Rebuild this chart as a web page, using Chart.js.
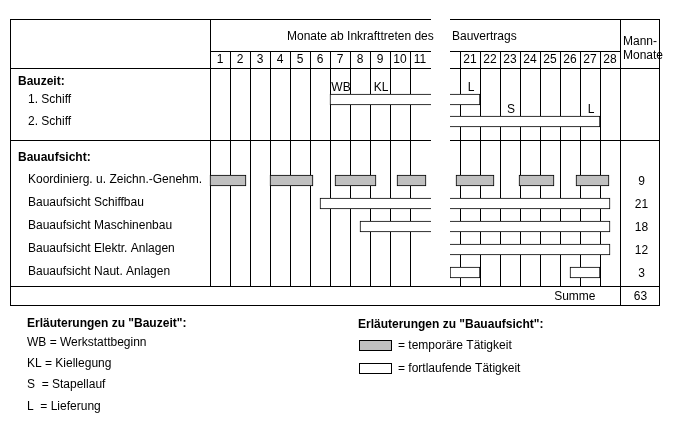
<!DOCTYPE html>
<html><head><meta charset="utf-8">
<script src="https://cdn.jsdelivr.net/npm/chart.js@4.4.1/dist/chart.umd.min.js"></script>
<style>html,body{margin:0;padding:0;background:#fff;overflow:hidden}canvas{display:block}</style>
</head><body>
<canvas id="chart" width="674" height="436"></canvas>
<script>
// ---------------- data ----------------
const monthTicks = [1,2,3,4,5,6,7,8,9,10,11,21,22,23,24,25,26,27,28];
const hiddenFrom = 11;      // elapsed months cut out of the time axis ...
const hiddenTo = 19.5;      // ... up to here

const bauzeitRows = ['1. Schiff', '2. Schiff'];
const bauzeitStart = [6, 13];
const bauzeitEnd = [21, 27];

const markerLabels = ['WB', 'KL', 'L', 'S', 'L'];
const markerMonths = [7, 9, 21, 23, 27];
const markerShips = ['1. Schiff', '1. Schiff', '1. Schiff', '2. Schiff', '2. Schiff'];

const aufsichtRows = ['Koordinierg. u. Zeichn.-Genehm.', 'Bauaufsicht Schiffbau', 'Bauaufsicht Maschinenbau', 'Bauaufsicht Elektr. Anlagen', 'Bauaufsicht Naut. Anlagen'];
const manMonths = [9, 21, 18, 12, 3];

const temporaryStart = [0, 3, 6.25, 9.35, 19.8, 22.95, 25.8];
const temporaryEnd = [1.8, 5.15, 8.3, 10.8, 21.7, 24.7, 27.45];

const continuousRows = ['Bauaufsicht Schiffbau', 'Bauaufsicht Maschinenbau', 'Bauaufsicht Elektr. Anlagen', 'Bauaufsicht Naut. Anlagen', 'Bauaufsicht Naut. Anlagen'];
const continuousStart = [5.5, 7.5, 15.5, 19.5, 25.5];
const continuousEnd = [27.5, 27.5, 27.5, 21, 27];

// ---------------- broken time axis ----------------
class BrokenScale extends Chart.LinearScale {
  getPixelForValue(value) {
    const a = this.options.gapFrom, b = this.options.gapTo, w = this.options.gapWidth;
    const toU = v => v <= a ? v : (v >= b ? v - (b - a) + w : a + (v - a) / (b - a) * w);
    const u0 = toU(this.min), u1 = toU(this.max);
    return this.getPixelForDecimal((toU(value) - u0) / (u1 - u0));
  }
}
BrokenScale.id = 'brokenLinear';
BrokenScale.defaults = Chart.LinearScale.defaults;
Chart.register(BrokenScale);

// ---------------- drawing helpers ----------------
const FONT = '"Liberation Sans", Arial, Helvetica, sans-serif';
function text(ctx, s, x, y, opt) {
  opt = opt || {};
  ctx.font = (opt.bold ? 'bold ' : '') + '12px ' + FONT;
  ctx.textAlign = opt.align || 'left';
  ctx.textBaseline = 'middle';
  ctx.fillStyle = '#000';
  ctx.fillText(s, x, y);
}
function hline(ctx, x1, x2, y) { ctx.beginPath(); ctx.moveTo(x1, y + 0.5); ctx.lineTo(x2, y + 0.5); ctx.stroke(); }
function vline(ctx, x, y1, y2) { ctx.beginPath(); ctx.moveTo(x + 0.5, y1); ctx.lineTo(x + 0.5, y2); ctx.stroke(); }

const F = { left: 10, right: 659, top: 19, head: 51, nums: 68, split: 140, sum: 286, bottom: 305 };

const tablePlugin = {
  id: 'table',
  beforeDraw(chart) {
    const ctx = chart.ctx;
    ctx.save(); ctx.fillStyle = '#fff'; ctx.fillRect(0, 0, chart.width, chart.height); ctx.restore();
  },
  beforeDatasetsDraw(chart) {
    const ctx = chart.ctx, x = chart.scales.x;
    ctx.save();
    ctx.strokeStyle = '#000'; ctx.lineWidth = 1;
    const colL = Math.round(x.getPixelForValue(0));
    const colR = Math.round(x.getPixelForValue(28));
    hline(ctx, F.left, F.right + 1, F.top);
    hline(ctx, colL, colR + 1, F.head);
    hline(ctx, F.left, F.right + 1, F.nums);
    hline(ctx, F.left, F.right + 1, F.split);
    hline(ctx, F.left, F.right + 1, F.sum);
    hline(ctx, F.left, F.right + 1, F.bottom);
    vline(ctx, F.left, F.top, F.bottom + 1);
    vline(ctx, F.right, F.top, F.bottom + 1);
    vline(ctx, colL, F.top, F.sum + 1);
    vline(ctx, colR, F.top, F.bottom + 1);
    monthTicks.forEach(m => {
      if (m === 1) return;
      const px = Math.round(x.getPixelForValue(m - 1));
      vline(ctx, px, F.head, F.sum + 1);
    });
    ctx.restore();
  },
  afterDatasetsDraw(chart) {
    const ctx = chart.ctx, x = chart.scales.x, yB = chart.scales.yBau, yA = chart.scales.yAuf;
    ctx.save();
    // cut-out of hidden months
    const g1 = Math.round(x.getPixelForValue(hiddenFrom)) + 1;
    const g2 = Math.round(x.getPixelForValue(hiddenTo));
    ctx.fillStyle = '#fff';
    ctx.fillRect(g1, 12, g2 - g1, F.sum - 12);
    ctx.strokeStyle = '#000'; ctx.lineWidth = 1;
    hline(ctx, g1, g1 + 4, F.sum);

    // header
    text(ctx, 'Monate ab Inkrafttreten des', 287, 36.5);
    text(ctx, 'Bauvertrags', 452, 36.5);
    text(ctx, 'Mann-', 623, 42);
    text(ctx, 'Monate', 623, 56);
    monthTicks.forEach(m => text(ctx, String(m), x.getPixelForValue(m - 0.5), 59.5, { align: 'center' }));

    // row labels
    text(ctx, 'Bauzeit:', 18, 81.5, { bold: true });
    bauzeitRows.forEach((r, i) => text(ctx, r, 28, yB.getPixelForValue(i)));
    text(ctx, 'Bauaufsicht:', 18, 158, { bold: true });
    aufsichtRows.forEach((r, i) => text(ctx, r, 28, yA.getPixelForValue(i) - 0.5));

    // milestone markers
    const meta = chart.getDatasetMeta(3);
    meta.data.forEach((el, i) => text(ctx, markerLabels[i], el.x + 1, el.y - 12, { align: 'center' }));

    // man-months
    manMonths.forEach((v, i) => text(ctx, String(v), 641.5, yA.getPixelForValue(i) + 1, { align: 'center' }));
    text(ctx, 'Summe', 595.5, 296.5, { align: 'right' });
    text(ctx, String(manMonths.reduce((a, b) => a + b, 0)), 640.5, 296.5, { align: 'center' });

    // explanations
    text(ctx, 'Erläuterungen zu "Bauzeit":', 27, 324, { bold: true });
    text(ctx, 'WB = Werkstattbeginn', 27, 343);
    text(ctx, 'KL = Kiellegung', 27, 363.5);
    text(ctx, 'S  = Stapellauf', 27, 385);
    text(ctx, 'L  = Lieferung', 27, 407);
    text(ctx, 'Erläuterungen zu "Bauaufsicht":', 358, 325, { bold: true });
    ctx.fillStyle = '#c0c0c0'; ctx.fillRect(359, 340, 33, 11);
    ctx.strokeRect(359.5, 340.5, 32, 10);
    text(ctx, '= temporäre Tätigkeit', 398, 345.5);
    ctx.fillStyle = '#fff'; ctx.fillRect(359, 363, 33, 11);
    ctx.strokeRect(359.5, 363.5, 32, 10);
    text(ctx, '= fortlaufende Tätigkeit', 398, 368.5);
    ctx.restore();
  }
};

const barCommon = { xAxisID: 'x', borderColor: '#000', borderWidth: 1, borderSkipped: false, barThickness: 11, grouped: false, clip: false };

new Chart(document.getElementById('chart'), {
  type: 'bar',
  data: {
    datasets: [
      Object.assign({ label: 'Bauzeit', yAxisID: 'yBau', backgroundColor: '#fff',
        data: bauzeitRows.map((r, i) => ({ x: [bauzeitStart[i], bauzeitEnd[i]], y: r })) }, barCommon),
      Object.assign({ label: 'temporäre Tätigkeit', yAxisID: 'yAuf', backgroundColor: '#c0c0c0',
        data: temporaryStart.map((s, i) => ({ x: [s, temporaryEnd[i]], y: aufsichtRows[0] })) }, barCommon),
      Object.assign({ label: 'fortlaufende Tätigkeit', yAxisID: 'yAuf', backgroundColor: '#fff',
        data: continuousRows.map((r, i) => ({ x: [continuousStart[i], continuousEnd[i]], y: r })) }, barCommon),
      { type: 'scatter', label: 'Meilensteine', xAxisID: 'x', yAxisID: 'yBau', pointRadius: 0, showLine: false, clip: false,
        data: markerMonths.map((m, i) => ({ x: m - 0.5, y: markerShips[i] })) }
    ]
  },
  options: {
    indexAxis: 'y',
    responsive: false,
    animation: false,
    events: [],
    layout: { padding: { left: 210, right: 54, top: 99.5, bottom: 163.5 } },
    plugins: { legend: { display: false }, tooltip: { enabled: false } },
    scales: {
      x: { type: 'brokenLinear', axis: 'x', position: 'bottom', display: false, offset: false, min: 0, max: 28,
           gapFrom: hiddenFrom, gapTo: hiddenTo, gapWidth: 1 },
      yBau: { type: 'category', axis: 'y', position: 'left', labels: bauzeitRows, offset: false, display: false,
              stack: 'rows', stackWeight: 22, weight: 3 },
      yGap: { type: 'category', axis: 'y', position: 'left', labels: [''], offset: false, display: false,
              stack: 'rows', stackWeight: 59, weight: 2 },
      yAuf: { type: 'category', axis: 'y', position: 'left', labels: aufsichtRows, offset: false, display: false,
              stack: 'rows', stackWeight: 92, weight: 1 }
    }
  },
  plugins: [tablePlugin]
});
</script>
</body></html>
